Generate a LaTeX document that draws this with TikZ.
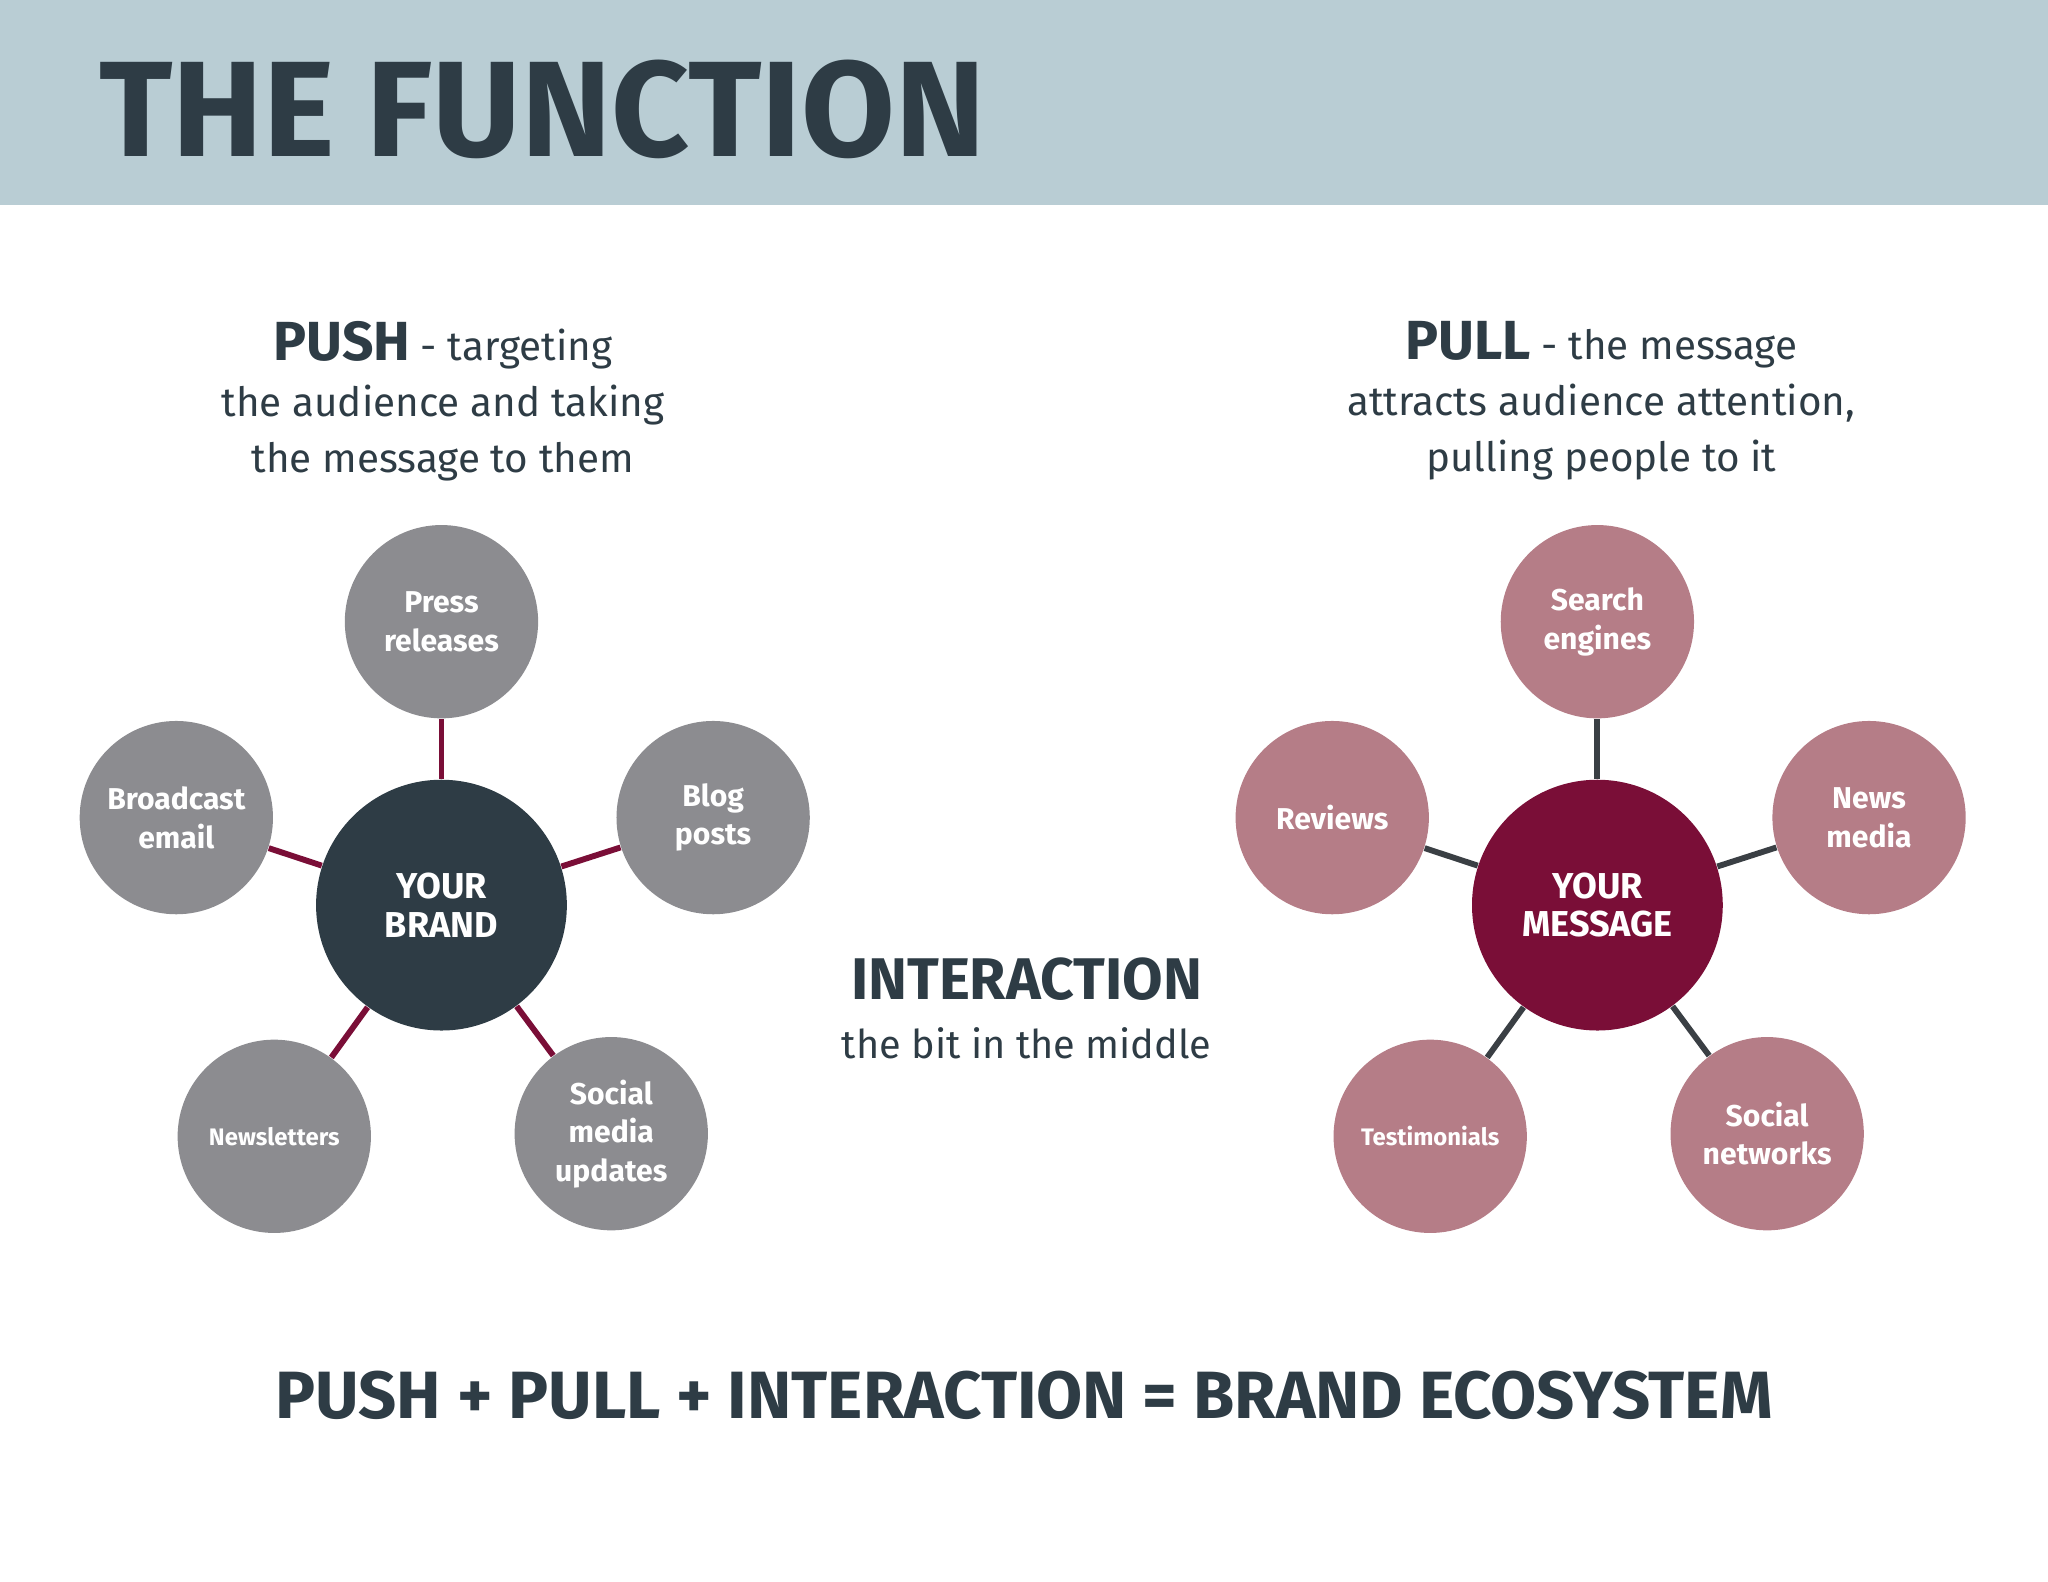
\documentclass[tikz,border=0pt]{standalone}
\usepackage{fontspec}
\setmainfont{Fira Sans}
\definecolor{band}{HTML}{B9CDD4}
\definecolor{ink}{HTML}{2E3C45}
\definecolor{stone}{HTML}{8C8C90}
\definecolor{wine}{HTML}{7A0E37}
\definecolor{rose}{HTML}{B57D87}
\definecolor{link}{HTML}{3A3F44}
\tikzset{
  hub/.style={circle, minimum size=192\pgflinewidth, inner sep=0pt, text=white,
    font=\fontsize{9.8}{10.5}\selectfont\bfseries, align=center},
  spoke/.style={circle, minimum size=148\pgflinewidth, inner sep=0pt, text=white,
    font=\fontsize{8.2}{10.5}\selectfont\bfseries, align=center},
  leg/.style={line width=1.6pt}
}
\begin{document}
\begin{tikzpicture}[x=0.0125cm, y=-0.0125cm, line width=0.0125cm]
\useasboundingbox (0,0) rectangle (1568,1211);
% header
\fill[band] (0,0) rectangle (1568,157);
\node[anchor=west, text=ink, font=\fontsize{37}{40}\selectfont\bfseries] (title) at (66,84) {THE FUNCTION};

% captions
\node[text=ink, align=center, font=\fontsize{11}{15.3}\selectfont] (push) at (339,307)
  {{\fontsize{15}{15}\selectfont\bfseries PUSH} - targeting\\the audience and taking\\the message to them};
\node[text=ink, align=center, font=\fontsize{11}{15.3}\selectfont] (pull) at (1226,307)
  {{\fontsize{15}{15}\selectfont\bfseries PULL} - the message\\attracts audience attention,\\pulling people to it};
\node[text=ink, align=center, font=\fontsize{10.8}{15}\selectfont] (inter) at (786,772)
  {{\fontsize{16}{16}\selectfont\bfseries INTERACTION}\\[1pt]the bit in the middle};

%% push side
\node[hub, fill=ink] (brand) at (338,693) {YOUR\\BRAND};
\node[spoke, fill=stone] (press) at (338,476) {Press\\releases};
\node[spoke, fill=stone] (bcast) at (135,626) {Broadcast\\email};
\node[spoke, fill=stone] (blog) at (546,626) {Blog\\posts};
\node[spoke, fill=stone, font=\fontsize{6.5}{8}\selectfont\bfseries] (news) at (210,870) {Newsletters};
\node[spoke, fill=stone] (social) at (468,868) {Social\\media\\updates};
\foreach \n in {press,bcast,blog,news,social}
  \draw[leg, wine] (brand) -- (\n);

%% pull side
\node[hub, fill=wine] (msg) at (1223,693) {YOUR\\MESSAGE};
\node[spoke, fill=rose] (search) at (1223,476) {Search\\engines};
\node[spoke, fill=rose] (review) at (1020,626) {Reviews};
\node[spoke, fill=rose] (media) at (1431,626) {News\\media};
\node[spoke, fill=rose, font=\fontsize{6.5}{8}\selectfont\bfseries] (testi) at (1095,870) {Testimonials};
\node[spoke, fill=rose] (nets) at (1353,868) {Social\\networks};
\foreach \n in {search,review,media,testi,nets}
  \draw[leg, link] (msg) -- (\n);

% equation
\node[text=ink, font=\fontsize{18.2}{20}\selectfont\bfseries] (sum) at (784,1068)
  {PUSH + PULL + INTERACTION = BRAND ECOSYSTEM};
\end{tikzpicture}
\end{document}
